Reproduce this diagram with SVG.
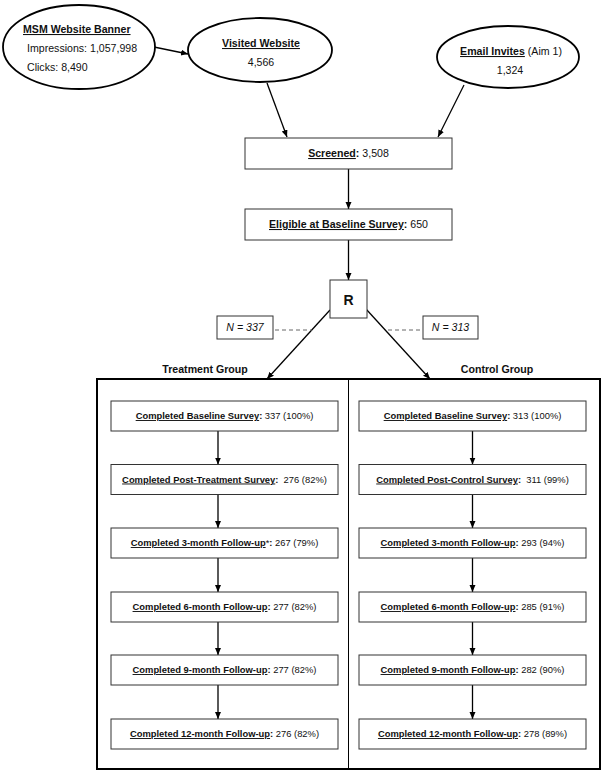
<svg xmlns="http://www.w3.org/2000/svg" width="605" height="773" viewBox="0 0 605 773">
<style>
text{font-family:"Liberation Sans",Arial,sans-serif;fill:#111}
.e{font-size:10.6px}
.b{font-weight:bold}
.u{text-decoration:underline}
.s{font-size:9.4px}
.ell{fill:#fff;stroke:#000;stroke-width:1.8}
.box{fill:#fff;stroke:#333;stroke-width:1}
.ln{stroke:#000;stroke-width:1.3;fill:none}
.dash{stroke:#666;stroke-width:1;stroke-dasharray:4 3;fill:none}
</style>
<defs>
<marker id="ah" markerUnits="userSpaceOnUse" markerWidth="8" markerHeight="7" refX="7" refY="3" orient="auto">
<path d="M0,0 L7,3 L0,6 z" fill="#000"/>
</marker>
</defs>
<rect width="605" height="773" fill="#fff"/>
<g id="connectors">
<line class="ln" x1="154" y1="47" x2="188" y2="54" marker-end="url(#ah)"/>
<line class="ln" x1="267" y1="83" x2="287" y2="137" marker-end="url(#ah)"/>
<line class="ln" x1="464" y1="85" x2="438" y2="137" marker-end="url(#ah)"/>
<line class="ln" x1="348.5" y1="169" x2="348.5" y2="209" marker-end="url(#ah)"/>
<line class="ln" x1="348.5" y1="240" x2="348.5" y2="280" marker-end="url(#ah)"/>
<line class="ln" x1="330" y1="310" x2="267" y2="379" marker-end="url(#ah)"/>
<line class="ln" x1="366" y1="309" x2="430" y2="379" marker-end="url(#ah)"/>
<line class="dash" x1="275" y1="330" x2="312" y2="330"/>
<line class="dash" x1="388" y1="330" x2="423" y2="330"/>
<line class="ln" x1="218" y1="431" x2="218" y2="464.5" marker-end="url(#ah)"/>
<line class="ln" x1="218" y1="494.5" x2="218" y2="528" marker-end="url(#ah)"/>
<line class="ln" x1="218" y1="558" x2="218" y2="592" marker-end="url(#ah)"/>
<line class="ln" x1="218" y1="622" x2="218" y2="655" marker-end="url(#ah)"/>
<line class="ln" x1="218" y1="685" x2="218" y2="719" marker-end="url(#ah)"/>
<line class="ln" x1="472.5" y1="431" x2="472.5" y2="464.5" marker-end="url(#ah)"/>
<line class="ln" x1="472.5" y1="494.5" x2="472.5" y2="528" marker-end="url(#ah)"/>
<line class="ln" x1="472.5" y1="558" x2="472.5" y2="592" marker-end="url(#ah)"/>
<line class="ln" x1="472.5" y1="622" x2="472.5" y2="655" marker-end="url(#ah)"/>
<line class="ln" x1="472.5" y1="685" x2="472.5" y2="719" marker-end="url(#ah)"/>
</g>
<g id="msm">
<ellipse class="ell" cx="79" cy="47" rx="76" ry="42"/>
<text class="e b" x="23" y="33"><tspan class="u">MSM Website Banner</tspan></text>
<text class="e" x="27" y="52">Impressions: 1,057,998</text>
<text class="e" x="27" y="71">Clicks: 8,490</text>
</g>
<g id="visited">
<ellipse class="ell" cx="260" cy="50" rx="72" ry="32"/>
<text class="e b" x="261" y="47" text-anchor="middle"><tspan class="u">Visited Website</tspan></text>
<text class="e" x="261" y="66" text-anchor="middle">4,566</text>
</g>
<g id="email">
<ellipse class="ell" cx="508" cy="57" rx="71" ry="31"/>
<text class="e" x="511" y="55" text-anchor="middle"><tspan class="b u">Email Invites</tspan> (Aim 1)</text>
<text class="e" x="510" y="74" text-anchor="middle">1,324</text>
</g>
<g id="screened">
<rect class="box" x="245" y="138" width="207" height="31"/>
<text class="e" x="348.5" y="157" text-anchor="middle"><tspan class="b u">Screened</tspan><tspan class="b">:</tspan> 3,508</text>
</g>
<g id="eligible">
<rect class="box" x="245" y="209" width="207" height="31"/>
<text class="e" x="348.5" y="228" text-anchor="middle"><tspan class="b u">Eligible at Baseline Survey</tspan><tspan class="b">:</tspan> 650</text>
</g>
<g id="r">
<rect class="box" x="330" y="280" width="37" height="38"/>
<text x="348.5" y="305" font-size="14" font-weight="bold" text-anchor="middle">R</text>
</g>
<g id="n337">
<rect class="box" x="217" y="316" width="56" height="23"/>
<text class="e" x="245" y="331" font-style="italic" text-anchor="middle">N = 337</text>
</g>
<g id="n313">
<rect class="box" x="423" y="316" width="55" height="23"/>
<text class="e" x="450.5" y="331" font-style="italic" text-anchor="middle">N = 313</text>
</g>
<g id="groups">
<text class="e b" x="205" y="373" text-anchor="middle">Treatment Group</text>
<text class="e b" x="497" y="373" text-anchor="middle">Control Group</text>
<rect x="97" y="379" width="503" height="390" fill="none" stroke="#000" stroke-width="2"/>
<line x1="348.5" y1="379" x2="348.5" y2="769" stroke="#000" stroke-width="1"/>
</g>
<g id="t1"><rect class="box" x="111" y="401" width="227" height="30"/>
<text class="s" x="224.5" y="419" text-anchor="middle"><tspan class="b u">Completed Baseline Survey</tspan><tspan class="b">:</tspan> 337 (100%)</text></g>
<g id="t2"><rect class="box" x="111" y="464.5" width="227" height="30"/>
<text class="s" x="224.5" y="482.5" text-anchor="middle" xml:space="preserve"><tspan class="b u">Completed Post-Treatment Survey</tspan><tspan class="b">:</tspan>  276 (82%)</text></g>
<g id="t3"><rect class="box" x="111" y="528" width="227" height="30"/>
<text class="s" x="224.5" y="546" text-anchor="middle"><tspan class="b u">Completed 3-month Follow-up</tspan>*<tspan class="b">:</tspan> 267 (79%)</text></g>
<g id="t4"><rect class="box" x="111" y="592" width="227" height="30"/>
<text class="s" x="224.5" y="610" text-anchor="middle"><tspan class="b u">Completed 6-month Follow-up</tspan><tspan class="b">:</tspan> 277 (82%)</text></g>
<g id="t5"><rect class="box" x="111" y="655" width="227" height="30"/>
<text class="s" x="224.5" y="673" text-anchor="middle"><tspan class="b u">Completed 9-month Follow-up</tspan><tspan class="b">:</tspan> 277 (82%)</text></g>
<g id="t6"><rect class="box" x="111" y="719" width="227" height="30"/>
<text class="s" x="224.5" y="737" text-anchor="middle"><tspan class="b u">Completed 12-month Follow-up</tspan><tspan class="b">:</tspan> 276 (82%)</text></g>
<g id="c1"><rect class="box" x="359" y="401" width="227" height="30"/>
<text class="s" x="472.5" y="419" text-anchor="middle"><tspan class="b u">Completed Baseline Survey</tspan><tspan class="b">:</tspan> 313 (100%)</text></g>
<g id="c2"><rect class="box" x="359" y="464.5" width="227" height="30"/>
<text class="s" x="472.5" y="482.5" text-anchor="middle" xml:space="preserve"><tspan class="b u">Completed Post-Control Survey</tspan><tspan class="b">:</tspan>  311 (99%)</text></g>
<g id="c3"><rect class="box" x="359" y="528" width="227" height="30"/>
<text class="s" x="472.5" y="546" text-anchor="middle"><tspan class="b u">Completed 3-month Follow-up</tspan><tspan class="b">:</tspan> 293 (94%)</text></g>
<g id="c4"><rect class="box" x="359" y="592" width="227" height="30"/>
<text class="s" x="472.5" y="610" text-anchor="middle"><tspan class="b u">Completed 6-month Follow-up</tspan><tspan class="b">:</tspan> 285 (91%)</text></g>
<g id="c5"><rect class="box" x="359" y="655" width="227" height="30"/>
<text class="s" x="472.5" y="673" text-anchor="middle"><tspan class="b u">Completed 9-month Follow-up</tspan><tspan class="b">:</tspan> 282 (90%)</text></g>
<g id="c6"><rect class="box" x="359" y="719" width="227" height="30"/>
<text class="s" x="472.5" y="737" text-anchor="middle"><tspan class="b u">Completed 12-month Follow-up</tspan><tspan class="b">:</tspan> 278 (89%)</text></g>
</svg>
